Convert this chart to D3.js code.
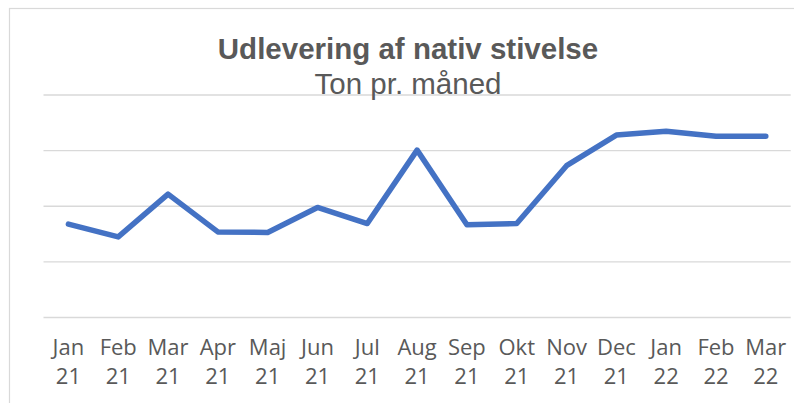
<!DOCTYPE html>
<html>
<head>
<meta charset="utf-8">
<script src="https://cdn.jsdelivr.net/npm/d3@7"></script>
<style>
html,body{margin:0;padding:0;background:#fff;}
svg{display:block;}
</style>
</head>
<body>
<svg id="chart" width="794" height="403"></svg>
<script>
const monthLabels = ["Jan","Feb","Mar","Apr","Maj","Jun","Jul","Aug","Sep","Okt","Nov","Dec","Jan","Feb","Mar"];
const yearLabels = ["21","21","21","21","21","21","21","21","21","21","21","21","22","22","22"];
const values = [167,144,221,153,152,197,168,300,166,168,272,327,334,325,325];
const gridTicks = [0,100,200,300,400];
const chartTitle = "Udlevering af nativ stivelse";
const chartSubtitle = "Ton pr. måned";

const svg = d3.select("#chart");
const W = 794, H = 403;
const plotL = 43.5, plotR = 790.7, plotT = 94.5, plotB = 317;
const textColor = "#595959";

// frame
svg.append("rect").attr("x",9.5).attr("y",8.5).attr("width",W+20).attr("height",H+20)
  .attr("fill","#fff").attr("stroke","#d9d9d9").attr("stroke-width",1.2);

const cats = monthLabels.map((m,i)=>i);
const x = d3.scalePoint().domain(cats).range([plotL,plotR]).padding(0.5);
const y = d3.scaleLinear().domain([0,400]).range([plotB,plotT]);

// gridlines
const grid = svg.append("g").attr("transform",`translate(${plotL},0)`)
  .call(d3.axisLeft(y).tickValues(gridTicks).tickSize(-(plotR-plotL)).tickFormat(""));
grid.select(".domain").remove();
grid.selectAll("line").attr("stroke","#d9d9d9").attr("stroke-width",1.3);

// titles
svg.append("text").attr("x",408).attr("y",59).attr("text-anchor","middle")
  .attr("font-family","Liberation Sans, Arial, sans-serif").attr("font-weight","bold")
  .attr("font-size",29.5).attr("fill",textColor).text(chartTitle);
svg.append("text").attr("x",408).attr("y",94).attr("text-anchor","middle")
  .attr("font-family","Liberation Sans, Arial, sans-serif")
  .attr("font-size",29.5).attr("fill",textColor).text(chartSubtitle);

// x axis labels
const xa = svg.append("g").attr("transform",`translate(0,${plotB})`)
  .call(d3.axisBottom(x).tickSize(0).tickFormat(""));
xa.select(".domain").remove();
const lab = svg.append("g").attr("font-family","Open Sans, sans-serif").attr("font-size",22).attr("fill",textColor);
cats.forEach(i=>{
  const t = lab.append("text").attr("x",x(i)).attr("text-anchor","middle");
  t.append("tspan").attr("x",x(i)).attr("y",355).text(monthLabels[i]);
  t.append("tspan").attr("x",x(i)).attr("y",383.5).text(yearLabels[i]);
});

// line
const line = d3.line().x((d,i)=>x(i)).y(d=>y(d));
svg.append("path").datum(values).attr("d",line).attr("fill","none")
  .attr("stroke","#4472C4").attr("stroke-width",5.5).attr("stroke-linejoin","round").attr("stroke-linecap","round");
</script>
</body>
</html>
